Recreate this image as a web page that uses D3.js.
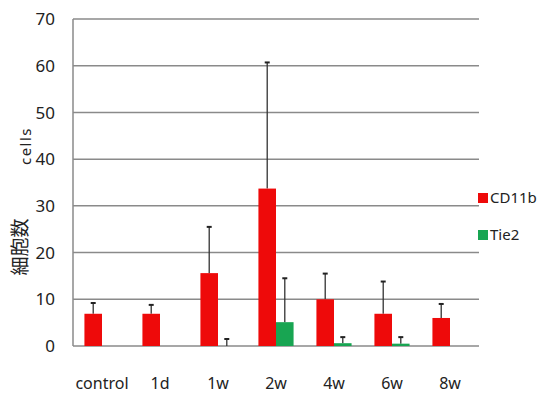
<!DOCTYPE html>
<html>
<head>
<meta charset="utf-8">
<script src="https://cdn.jsdelivr.net/npm/d3@7/dist/d3.min.js"></script>
<style>
  body { margin: 0; background: #fff; }
  svg { display: block; }
  text { font-family: "Noto Sans", "Noto Sans CJK JP", sans-serif; fill: #222; }
</style>
</head>
<body>
<div id="chart"></div>
<script>
  const categories = ["control", "1d", "1w", "2w", "4w", "6w", "8w"];
  const seriesNames = ["CD11b", "Tie2"];
  const cd11b = [6.9, 6.9, 15.6, 33.7, 10.0, 6.9, 6.0];
  const cd11bErr = [9.2, 8.8, 25.5, 60.7, 15.5, 13.8, 9.0];
  const tie2 = [null, null, 0, 5.1, 0.6, 0.5, null];
  const tie2Err = [null, null, 1.5, 14.5, 1.9, 1.9, null];
  const yTicks = [0, 10, 20, 30, 40, 50, 60, 70];
  const colors = { CD11b: "#ee0a0a", Tie2: "#18a552" };

  const width = 547, height = 396;
  const margin = { top: 19, right: 68, bottom: 50, left: 73 };

  const svg = d3.select("#chart").append("svg")
    .attr("width", width).attr("height", height);

  const x = d3.scaleBand()
    .domain(categories)
    .range([margin.left, width - margin.right]);
  const xs = d3.scaleBand()
    .domain(seriesNames)
    .range([0, x.bandwidth()])
    .paddingOuter(0.65);
  const y = d3.scaleLinear()
    .domain([0, 70])
    .range([height - margin.bottom, margin.top]);

  // gridlines
  svg.append("g")
    .selectAll("line")
    .data(yTicks)
    .join("line")
      .attr("x1", margin.left).attr("x2", width - margin.right)
      .attr("y1", d => y(d)).attr("y2", d => y(d))
      .attr("stroke", "#8a8a8a").attr("stroke-width", 1.5);

  // y axis line
  svg.append("line")
    .attr("x1", margin.left).attr("x2", margin.left)
    .attr("y1", y(70)).attr("y2", y(0))
    .attr("stroke", "#8a8a8a").attr("stroke-width", 1.5);

  // y tick labels
  svg.append("g")
    .selectAll("text")
    .data(yTicks)
    .join("text")
      .attr("x", 55).attr("y", d => y(d))
      .attr("dy", "0.36em")
      .attr("text-anchor", "end")
      .attr("font-size", 17)
      .text(d => d);

  // x labels
  svg.append("g")
    .selectAll("text")
    .data(categories)
    .join("text")
      .attr("x", d => x(d) + x.bandwidth() / 2)
      .attr("y", 389)
      .attr("text-anchor", "middle")
      .attr("font-size", 16)
      .text(d => d);

  const rows = categories.map((c, i) => ({
    c,
    vals: [
      { s: "CD11b", v: cd11b[i], e: cd11bErr[i] },
      { s: "Tie2", v: tie2[i], e: tie2Err[i] }
    ].filter(d => d.v !== null)
  }));

  const groups = svg.append("g")
    .selectAll("g")
    .data(rows)
    .join("g")
      .attr("transform", d => `translate(${x(d.c)},0)`);

  // error bars (upward only)
  groups.selectAll("g.err")
    .data(d => d.vals)
    .join("g")
      .attr("class", "err")
      .each(function(d) {
        const g = d3.select(this);
        const cx = xs(d.s) + xs.bandwidth() / 2;
        g.append("line")
          .attr("x1", cx).attr("x2", cx)
          .attr("y1", y(d.v)).attr("y2", y(d.e))
          .attr("stroke", "#333").attr("stroke-width", 1.3);
        g.append("line")
          .attr("x1", cx - 2.5).attr("x2", cx + 2.5)
          .attr("y1", y(d.e)).attr("y2", y(d.e))
          .attr("stroke", "#222").attr("stroke-width", 2);
      });

  groups.selectAll("rect")
    .data(d => d.vals)
    .join("rect")
      .attr("x", d => xs(d.s))
      .attr("width", xs.bandwidth())
      .attr("y", d => y(d.v))
      .attr("height", d => y(0) - y(d.v))
      .attr("fill", d => colors[d.s]);

  // axis titles
  svg.append("text")
    .attr("transform", "translate(27,247) rotate(-90)")
    .attr("text-anchor", "middle")
    .attr("font-size", 19)
    .attr("font-family", "Noto Sans CJK JP")
    .text("細胞数");
  svg.append("text")
    .attr("transform", "translate(31,146) rotate(-90)")
    .attr("text-anchor", "middle")
    .attr("font-size", 15)
    .attr("letter-spacing", 1.5)
    .text("cells");

  // legend
  const lg = svg.append("g")
    .selectAll("g")
    .data(seriesNames)
    .join("g")
      .attr("transform", (d, i) => `translate(478,${193 + i * 37})`);
  lg.append("rect")
    .attr("width", 10).attr("height", 10)
    .attr("fill", d => colors[d]);
  lg.append("text")
    .attr("x", 12).attr("y", 5).attr("dy", "0.36em")
    .attr("font-size", 15)
    .text(d => d);
</script>
</body>
</html>
